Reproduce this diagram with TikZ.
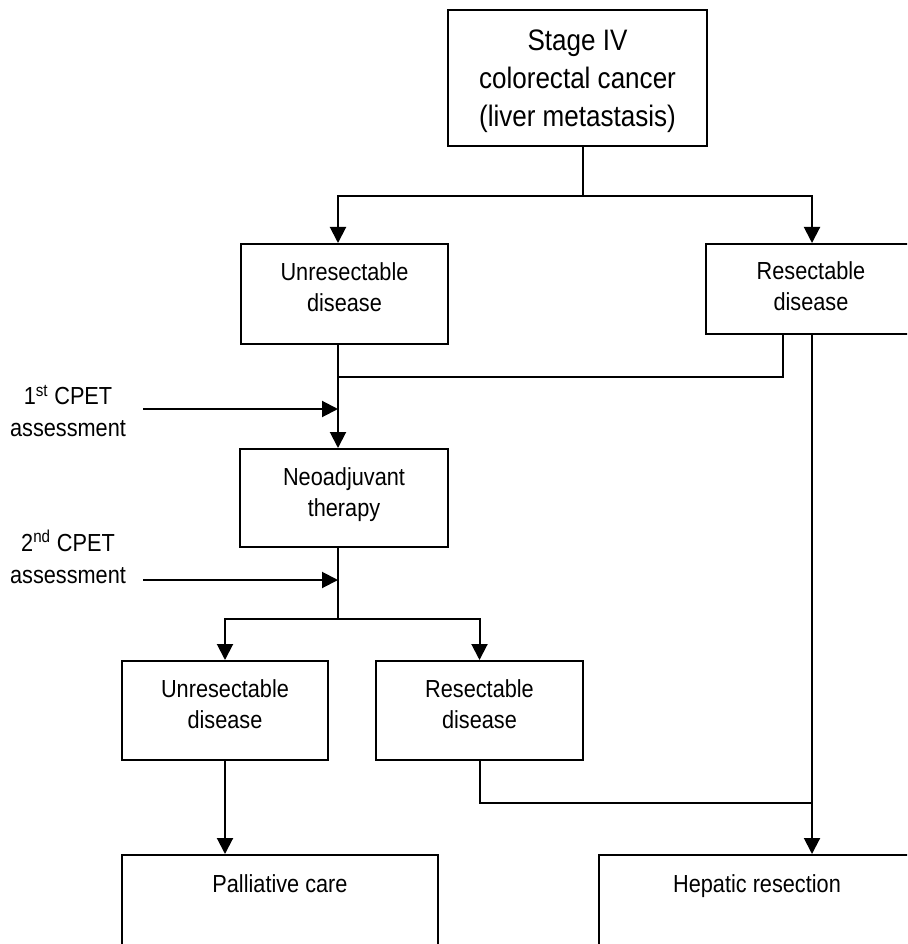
\documentclass[tikz,border=0pt]{standalone}
\usepackage{fontspec}
\setmainfont[FakeStretch=0.88]{Liberation Sans}
\usetikzlibrary{arrows.meta}
\newcommand\bigtxt{\fontsize{22.2pt}{28.5pt}\selectfont}
\newcommand\smalltxt{\fontsize{18.5pt}{23.25pt}\selectfont}
\newcommand\cpettxt{\fontsize{18.5pt}{24pt}\selectfont}
\newcommand\lns[1]{\begin{tabular}[b]{@{}c@{}}#1\end{tabular}}
\tikzset{
  box/.style={draw, line width=1.8pt, inner xsep=0pt, inner ysep=0pt, anchor=north},
  ln/.style={line width=1.5pt},
  arr/.style={line width=1.5pt, -{Triangle[width=12pt,length=12pt]}},
}
\begin{document}
\begin{tikzpicture}[x=0.75pt, y=-0.75pt]
\fill[white] (0,0) rectangle (907,944);
\path[use as bounding box, clip] (0,0) rectangle (907,944);

% boxes
\node[box, font=\bigtxt, minimum width=194.25pt, text height=87pt, text depth=15pt] (stage) at (577.5,9) {\lns{Stage IV\\colorectal cancer\\(liver metastasis)}};
\node[box, font=\smalltxt, minimum width=155.25pt, text height=50.25pt, text depth=24.75pt] (unres1) at (344.5,243) {\lns{Unresectable\\disease}};
\node[box, font=\smalltxt, minimum width=157.5pt, text height=49.5pt, text depth=18pt] (res1) at (811,243) {\lns{Resectable\\disease}};
\node[box, font=\smalltxt, minimum width=156pt, text height=50.25pt, text depth=23.25pt] (neo) at (344,448) {\lns{Neoadjuvant\\therapy}};
\node[box, font=\smalltxt, minimum width=154.5pt, text height=50.25pt, text depth=24pt] (unres2) at (225,660) {\lns{Unresectable\\disease}};
\node[box, font=\smalltxt, minimum width=155.25pt, text height=50.25pt, text depth=24pt] (res2) at (479.5,660) {\lns{Resectable\\disease}};
\node[box, font=\smalltxt, minimum width=237pt, text height=27.75pt, text depth=90pt] (pall) at (280,854) {Palliative care};
\node[box, font=\smalltxt, minimum width=237pt, text height=27.75pt, text depth=90pt] (hep) at (757,854) {Hepatic resection};

% side labels
\node[font=\cpettxt, align=center] (cpet1) at (68,411) {1\textsuperscript{st} CPET\\assessment};
\node[font=\cpettxt, align=center] (cpet2) at (68,557) {2\textsuperscript{nd} CPET\\assessment};

% reference coordinates
\coordinate (j1) at (583,196);
\coordinate (a1) at (338,196);
\coordinate (b1) at (812,196);
\coordinate (m) at (338,0);
\coordinate (j2) at (783,377);
\coordinate (c1) at (143,409);
\coordinate (j3) at (338,619);
\coordinate (c2) at (143,580);
\coordinate (j4) at (812,803);

% connectors
\draw[ln] (stage.south -| j1) -- (j1);
\draw[arr] (j1) -| (unres1.north -| a1);
\draw[arr] (j1) -| (res1.north -| b1);
\draw[arr] (unres1.south -| m) -- (neo.north -| m);
\draw[ln] (res1.south -| j2) |- (j2 -| m);
\draw[arr] (c1) -- (c1 -| m);
\draw[ln] (neo.south -| m) -- (j3);
\draw[arr] (c2) -- (c2 -| m);
\draw[arr] (j3) -| (unres2.north);
\draw[arr] (j3) -| (res2.north);
\draw[arr] (unres2.south) -- (pall.north -| unres2.south);
\draw[arr] (res1.south -| b1) -- (hep.north -| b1);
\draw[ln] (res2.south) |- (j4);
\end{tikzpicture}
\end{document}
